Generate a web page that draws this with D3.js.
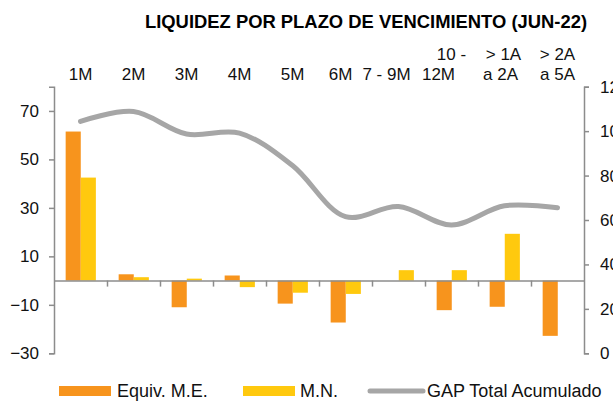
<!DOCTYPE html>
<html>
<head>
<meta charset="utf-8">
<script src="https://cdn.jsdelivr.net/npm/d3@7"></script>
<style>
  body { margin: 0; background: #fff; }
  svg { display: block; font-family: "Liberation Sans", Arial, sans-serif; }
</style>
</head>
<body>
<div id="chart"></div>
<script>
// datos (millones)
const categories = ["1M", "2M", "3M", "4M", "5M", "6M", "7 - 9M", "10 - 12M", "> 1A a 2A", "> 2A a 5A"];
const catLines = [["1M"], ["2M"], ["3M"], ["4M"], ["5M"], ["6M"], ["7 - 9M"], ["10 -", "12M"], ["> 1A", "a 2A"], ["> 2A", "a 5A"]];
const equivME = [61.5, 2.6, -11, 2.1, -9.5, -17.3, 0, -12.2, -10.8, -22.8];
const mn = [42.5, 1.4, 0.8, -2.7, -5, -5.5, 4.3, 4.3, 19.3, 0];
const gapTotal = [104.4, 108.8, 98.7, 99.1, 84.5, 61.5, 66.1, 57.8, 66.4, 65.5];
const leftTicks = [-30, -10, 10, 30, 50, 70];
const rightTicks = [0, 20, 40, 60, 80, 100, 120];
const seriesNames = ["Equiv. M.E.", "M.N.", "GAP Total Acumulado"];

const config = {
  width: 613, height: 402,
  left: 54, right: 584, top: 86.7, bottom: 353.3,
  orange: "#F7941D", yellow: "#FFC90E", gray: "#A6A6A6", axis: "#8C8C8C"
};

// pequeños ajustes de posicion de las etiquetas (como en el original)
const labelNudge = { "6M": [-5], "7 - 9M": [-12], "10 - 12M": [0, -13], "> 1A a 2A": [-1, -4], "> 2A a 5A": [0, 0] };

const svg = d3.select("#chart").append("svg")
  .attr("width", config.width)
  .attr("height", config.height);

const x0 = d3.scaleBand().domain(categories).range([config.left, config.right]).padding(0);
const x1 = d3.scaleBand().domain(["me", "mn"]).range([x0.step() * 0.22, x0.step() * 0.79]).padding(0);
const yL = d3.scaleLinear().domain([-30, 80]).range([config.bottom, config.top]);
const yR = d3.scaleLinear().domain([0, 120]).range([config.bottom, config.top]);

// titulo
svg.append("text")
  .attr("x", 366).attr("y", 27.5)
  .attr("text-anchor", "middle")
  .style("font-size", "18.4px").style("font-weight", "bold")
  .attr("fill", "#000")
  .text("LIQUIDEZ POR PLAZO DE VENCIMIENTO (JUN-22)");

// etiquetas de categoria arriba
const catG = svg.append("g");
categories.forEach((c, i) => {
  const lines = catLines[i];
  const nudge = labelNudge[c] || [];
  lines.forEach((ln, j) => {
    catG.append("text")
      .attr("x", x0(c) + x0.bandwidth() / 2 + (nudge[j] || 0))
      .attr("y", 80 - (lines.length - 1 - j) * 20)
      .attr("text-anchor", "middle")
      .style("font-size", "17px")
      .attr("fill", "#111")
      .text(ln);
  });
});

// barras
const bars = [];
categories.forEach((c, i) => {
  bars.push({ cat: c, key: "me", v: equivME[i] });
  bars.push({ cat: c, key: "mn", v: mn[i] });
});
svg.append("g").selectAll("rect")
  .data(bars.filter(d => d.v !== 0))
  .enter().append("rect")
  .attr("x", d => x0(d.cat) + x1(d.key))
  .attr("y", d => yL(Math.max(0, d.v)))
  .attr("width", x1.bandwidth())
  .attr("height", d => Math.abs(yL(d.v) - yL(0)))
  .attr("fill", d => d.key === "me" ? config.orange : config.yellow);

// eje de categorias en cero
const xLin = d3.scaleLinear().domain([0, categories.length]).range([config.left, config.right]);
const zeroAxis = svg.append("g")
  .attr("transform", `translate(0,${yL(0)})`)
  .call(d3.axisBottom(xLin).tickValues(d3.range(1, categories.length)).tickSize(6).tickSizeOuter(0).tickFormat(""));

// eje izquierdo
const leftAxis = svg.append("g")
  .attr("transform", `translate(${config.left},0)`)
  .call(d3.axisLeft(yL).tickValues(leftTicks).tickSize(5).tickSizeOuter(5).tickPadding(10));

// eje derecho
const rightAxis = svg.append("g")
  .attr("transform", `translate(${config.right},0)`)
  .call(d3.axisRight(yR).tickValues(rightTicks).tickSize(5).tickSizeOuter(5).tickPadding(11));

[zeroAxis, leftAxis, rightAxis].forEach(a => {
  a.selectAll("path, line").attr("stroke", config.axis).attr("stroke-width", 1.5);
  a.selectAll("text").style("font-size", "17px").attr("fill", "#111").attr("font-family", null);
  a.attr("font-family", null).attr("font-size", null);
});

// linea GAP total (eje derecho)
const line = d3.line()
  .x((d, i) => x0(categories[i]) + x0.bandwidth() / 2)
  .y(d => yR(d))
  .curve(d3.curveCatmullRom.alpha(0.5));
svg.append("path")
  .datum(gapTotal)
  .attr("d", line)
  .attr("fill", "none")
  .attr("stroke", config.gray)
  .attr("stroke-width", 5)
  .attr("stroke-linecap", "round");

// leyenda
const leg = svg.append("g").style("font-size", "18px").attr("fill", "#111");
leg.append("rect").attr("x", 59).attr("y", 386).attr("width", 52).attr("height", 10).attr("fill", config.orange);
leg.append("text").attr("x", 117).attr("y", 397).text(seriesNames[0]);
leg.append("rect").attr("x", 243).attr("y", 386).attr("width", 52).attr("height", 10).attr("fill", config.yellow);
leg.append("text").attr("x", 300).attr("y", 397).text(seriesNames[1]);
leg.append("line").attr("x1", 370).attr("x2", 423).attr("y1", 391).attr("y2", 391)
  .attr("stroke", config.gray).attr("stroke-width", 5).attr("stroke-linecap", "round");
leg.append("text").attr("x", 427).attr("y", 397).text(seriesNames[2]);
</script>
</body>
</html>
